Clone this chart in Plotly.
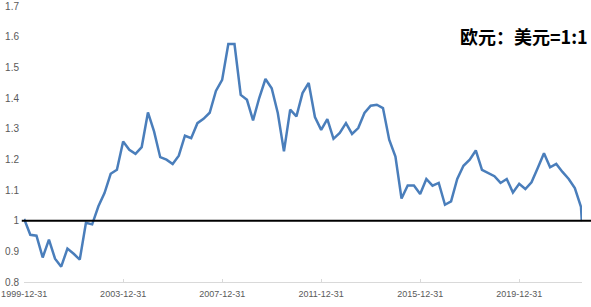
import pandas as pd
import plotly.graph_objects as go

# Quarter-end dates (1999-12-31 .. 2022-03-31) plus the last observations
quarter_dates = [d.strftime("%Y-%m-%d") for d in pd.date_range("1999-12-31", periods=90, freq="QE")]
extra_dates = ["2022-06-30", "2022-07-12"]
dates = quarter_dates + extra_dates

eurusd = [
    1.006, 0.954, 0.951, 0.880, 0.938, 0.876, 0.850, 0.909, 0.892, 0.873,
    0.993, 0.988, 1.047, 1.090, 1.153, 1.166, 1.258, 1.231, 1.218, 1.240,
    1.353, 1.291, 1.207, 1.199, 1.185, 1.212, 1.277, 1.269, 1.318, 1.332,
    1.352, 1.423, 1.459, 1.576, 1.576, 1.410, 1.394, 1.327, 1.400, 1.462,
    1.432, 1.351, 1.226, 1.362, 1.340, 1.416, 1.449, 1.338, 1.296, 1.331,
    1.267, 1.286, 1.318, 1.283, 1.302, 1.351, 1.375, 1.378, 1.367, 1.264,
    1.209, 1.072, 1.115, 1.115, 1.087, 1.136, 1.114, 1.123, 1.052, 1.063,
    1.136, 1.179, 1.199, 1.229, 1.166, 1.156, 1.145, 1.123, 1.136, 1.092,
    1.120, 1.103, 1.125, 1.172, 1.220, 1.174, 1.185, 1.159, 1.136, 1.106,
    1.045, 0.998,
]

x_tick_vals = ["1999-12-31", "2003-12-31", "2007-12-31", "2011-12-31", "2015-12-31", "2019-12-31"]
y_tick_vals = [0.8, 0.9, 1.0, 1.1, 1.2, 1.3, 1.4, 1.5, 1.6, 1.7]
parity_level = 1.0
title_text = "欧元：美元=1:1"

fig = go.Figure()
fig.add_trace(go.Scatter(
    x=dates, y=eurusd, mode="lines",
    line=dict(color="#4a7ebb", width=2.5),
    showlegend=False, hoverinfo="x+y",
))

fig.add_shape(type="line", xref="paper", yref="y",
              x0=-0.004, x1=1.02, y0=parity_level, y1=parity_level,
              line=dict(color="black", width=2))

fig.add_annotation(text="<b>" + title_text + "</b>", xref="paper", yref="paper",
                   x=1.015, y=0.89, xanchor="right", yanchor="middle", showarrow=False,
                   font=dict(size=18, color="black", family="Noto Sans CJK SC"))

fig.update_layout(
    width=591, height=307,
    margin=dict(l=24, r=9, t=6, b=25, autoexpand=False),
    paper_bgcolor="white", plot_bgcolor="white",
    font=dict(family="Liberation Sans, Arial", size=10, color="#595959"),
    xaxis=dict(
        type="date", range=["1999-12-29", "2022-07-15"],
        tickvals=x_tick_vals, ticktext=x_tick_vals,
        showgrid=False, zeroline=False,
        showline=True, linecolor="#d9d9d9", linewidth=1,
        ticks="inside", ticklen=3, tickcolor="#d9d9d9",
        tickfont=dict(size=9, color="#595959"),
        ticklabelstandoff=3,
        ticklabeloverflow="allow",
        automargin=False,
    ),
    yaxis=dict(
        range=[0.8, 1.7], tickvals=y_tick_vals,
        showgrid=False, zeroline=False, showline=False,
        tickfont=dict(size=10, color="#595959"),
        ticklabelstandoff=4,
        automargin=False,
    ),
)

fig.write_html("out.html")
